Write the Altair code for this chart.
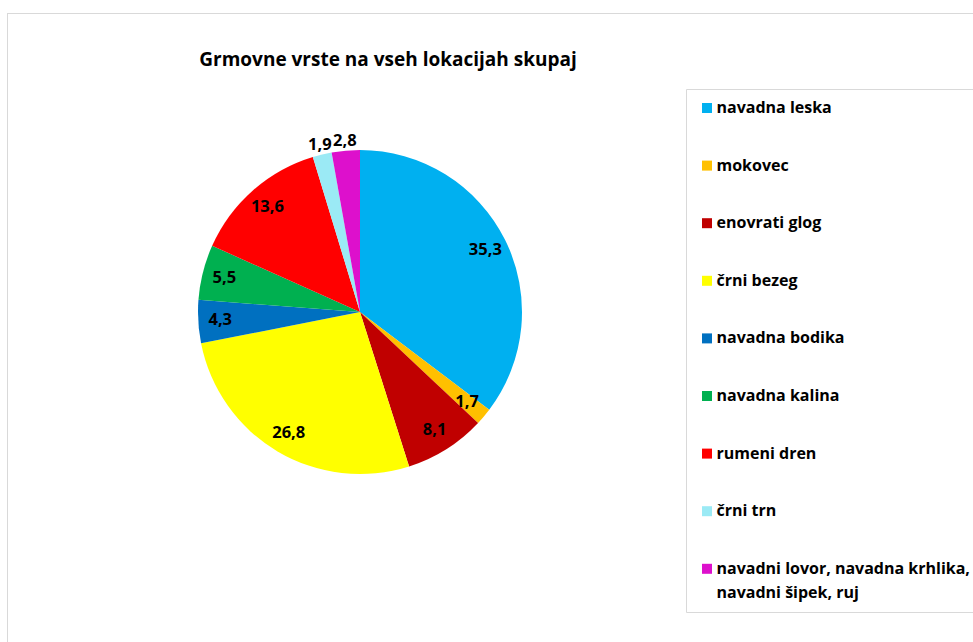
import altair as alt
import pandas as pd

categories = [
    "navadna leska",
    "mokovec",
    "enovrati glog",
    "črni bezeg",
    "navadna bodika",
    "navadna kalina",
    "rumeni dren",
    "črni trn",
    "navadni lovor, navadna krhlika, navadni šipek, ruj",
]
values = [35.3, 1.7, 8.1, 26.8, 4.3, 5.5, 13.6, 1.9, 2.8]
labels = ["35,3", "1,7", "8,1", "26,8", "4,3", "5,5", "13,6", "1,9", "2,8"]
colors = ["#00B0F0", "#FFC000", "#C00000", "#FFFF00", "#0070C0",
          "#00B050", "#FF0000", "#9BEAF5", "#DD10CC"]
outside = ["črni trn", "navadni lovor, navadna krhlika, navadni šipek, ruj"]
title_text = "Grmovne vrste na vseh lokacijah skupaj"

df = pd.DataFrame({
    "kat": categories,
    "val": values,
    "lab": labels,
    "idx": list(range(len(categories))),
})

W, H = 973, 642
CX, CY, R = 360, 312, 162
FONT = "Open Sans"

color_scale = alt.Scale(domain=categories, range=colors)

base = alt.Chart(df)

pie = base.mark_arc(radius=R).encode(
    theta=alt.Theta("val:Q", stack=True),
    order=alt.Order("idx:Q"),
    color=alt.Color(
        "kat:N",
        scale=color_scale,
        sort=categories,
        legend=alt.Legend(
            title=None,
            orient="none",
            legendX=686,
            legendY=89,
            padding=11,
            strokeColor="#d9d9d9",
            fillColor="white",
            symbolType="square",
            symbolSize=100,
            symbolStrokeWidth=0,
            symbolOffset=2,
            labelFont=FONT,
            labelFontSize=16,
            labelFontWeight="bold",
            labelColor="#000000",
            labelLimit=400,
            labelOffset=1.5,
            rowPadding=41.6,
            labelExpr="length(datum.label) > 30 ? ['navadni lovor, navadna krhlika,', 'navadni šipek, ruj'] : datum.label",
        ),
    ),
    x=alt.value(CX),
    y=alt.value(CY),
)

outside_js = "[" + ",".join('"%s"' % o for o in outside) + "]"

text = base.transform_stack(
    stack="val", groupby=[], as_=["s0", "s1"], sort=[alt.SortField("idx", order="ascending")]
).transform_calculate(
    mid="(datum.s0 + datum.s1) / 2",
    rad="indexof(%s, datum.kat) >= 0 ? 172 : 140" % outside_js,
).mark_text(
    font=FONT, fontSize=16.5, fontWeight="bold", color="black"
).encode(
    theta=alt.Theta("mid:Q", stack=None),
    radius=alt.Radius("rad:Q", scale=None),
    text="lab:N",
    x=alt.value(CX),
    y=alt.value(CY),
)

title = alt.Chart(pd.DataFrame({"t": [title_text]})).mark_text(
    font=FONT, fontSize=19, fontWeight="bold", color="black"
).encode(text="t:N", x=alt.value(388), y=alt.value(60))

frame_top = alt.Chart(pd.DataFrame({"a": [0]})).mark_rule(
    color="#d9d9d9", strokeWidth=1
).encode(x=alt.value(7), x2=alt.value(W), y=alt.value(13.5))
frame_left = alt.Chart(pd.DataFrame({"a": [0]})).mark_rule(
    color="#d9d9d9", strokeWidth=1
).encode(x=alt.value(7.5), y=alt.value(13), y2=alt.value(H))

chart = alt.layer(frame_top, frame_left, pie, text, title).properties(
    width=W, height=H,
    autosize=alt.AutoSizeParams(type="none"),
    padding=0,
    background="white",
).configure(
    style={"guide-label": {"lineHeight": 24}}
).configure_view(stroke=None)

chart.save("out.html", embed_options={"renderer": "svg", "actions": False})
